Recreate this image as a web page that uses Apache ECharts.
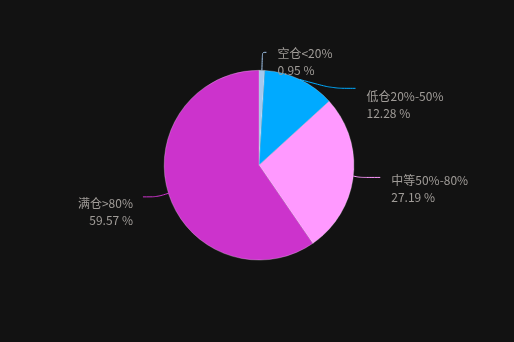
<!DOCTYPE html>
<html><head><meta charset="utf-8">
<style>html,body{margin:0;padding:0;background:#121212;}#c{width:514px;height:342px;}</style>
<script src="https://cdn.jsdelivr.net/npm/echarts@6/dist/echarts.min.js"></script>
</head><body><div id="c"></div>
<script>
const categories = ['空仓<20%', '低仓20%-50%', '中等50%-80%', '满仓>80%'];
const values = [0.95, 12.28, 27.19, 59.57];
const colors = ['#a4c8ee', '#00aaff', '#ff99ff', '#cc33cc'];
const lineLen = [{ length: 18, length2: 4 }, { length: 12, length2: 23 }, {}, { length: 12, length2: 14 }];
const labelDy = [10, 17, 12, 15];
const labelDx = [6, 6, 6, -5];
const chart = echarts.init(document.getElementById('c'));
chart.setOption({
  backgroundColor: '#121212',
  series: [{
    type: 'pie',
    center: ['50.4%', '48.3%'],
    radius: '55.5%',
    startAngle: 90,
    itemStyle: { borderColor: 'rgba(255,255,255,0.5)', borderWidth: 0.5 },
    label: {
      formatter: '{b}\n{c} %',
      color: '#a09c98',
      fontSize: 12,
      lineHeight: 17,
      fontFamily: '"Noto Sans CJK SC", sans-serif'
    },
    labelLine: { smooth: 0.3, length: 12, length2: 20 },
    labelLayout: function (p) {
      return { dx: labelDx[p.dataIndex], dy: labelDy[p.dataIndex] };
    },
    data: categories.map((c, i) => ({
      name: c, value: values[i], itemStyle: { color: colors[i] }, labelLine: lineLen[i]
    }))
  }]
});
</script></body></html>
